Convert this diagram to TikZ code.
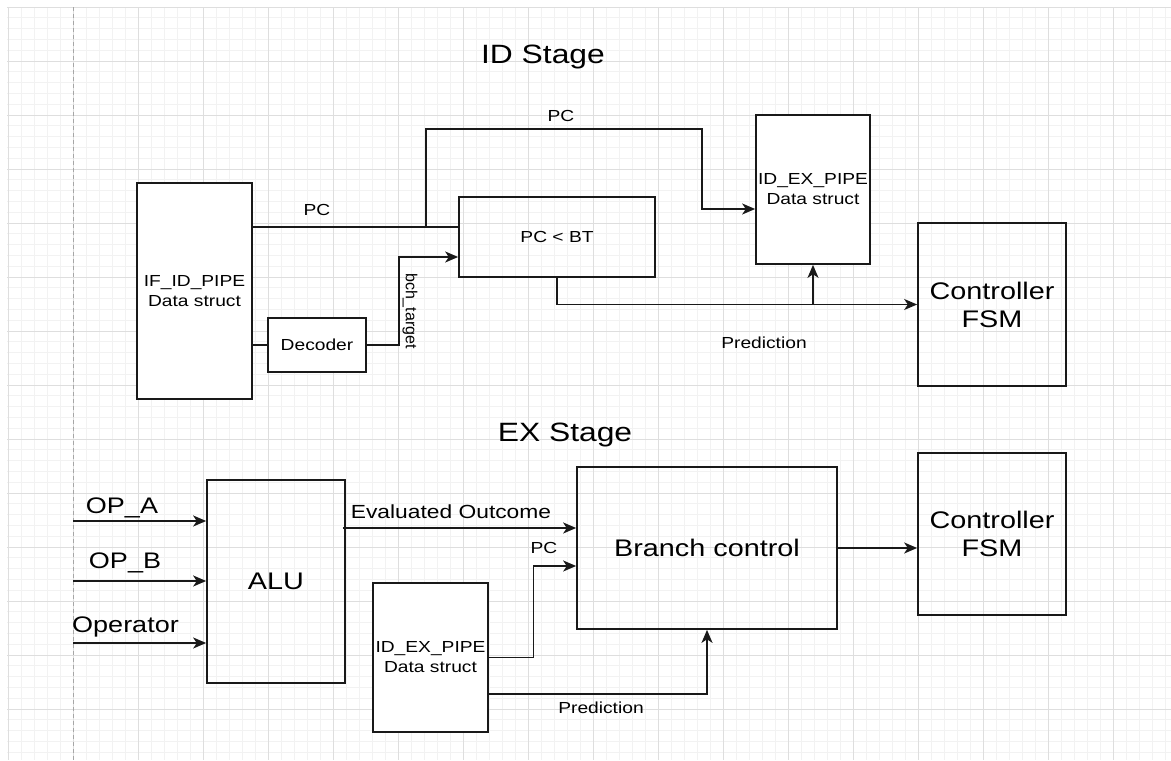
\documentclass[tikz,border=0pt]{standalone}
\usepackage{fontspec}
\setmainfont{Liberation Sans}[FakeStretch=1.2]
\newfontfamily\uprightfont{Liberation Sans}
\usetikzlibrary{arrows.meta, calc}

\begin{document}
\begin{tikzpicture}[x=0.5pt, y=-0.5pt,
    minorgrid/.style={draw=black!5, line width=0.5pt},
    majorgrid/.style={draw=black!13, line width=0.5pt},
    box/.style={draw=black!90, line width=0.85pt, inner sep=0pt, align=center},
    wire/.style={draw=black!90, line width=0.85pt},
    arr/.style={wire, -{Stealth[length=6.5pt, width=5.5pt, inset=1.8pt]}},
    small/.style={inner sep=0pt, align=center, font=\fontsize{8}{10}\selectfont},
    big/.style={inner sep=0pt, align=center, font=\fontsize{11.25}{13}\selectfont},
    huge/.style={inner sep=0pt, align=center, font=\fontsize{12}{14}\selectfont},
    title/.style={inner sep=0pt, font=\fontsize{13.25}{15}\selectfont}]
  \useasboundingbox (0,0) rectangle (1171,760);
  \fill[white] (0,0) rectangle (1171,760);

  % grid paper
  \foreach \gx in {0,...,89}
    \draw[minorgrid] ({8+13*\gx},7) -- ({8+13*\gx},760);
  \foreach \gy in {0,...,69}
    \draw[minorgrid] (7,{7+10.8*\gy}) -- (1171,{7+10.8*\gy});
  \foreach \gx in {0,...,17}
    \draw[majorgrid] ({8+65*\gx},7) -- ({8+65*\gx},760);
  \foreach \gy in {0,...,13}
    \draw[majorgrid] (7,{7+54*\gy}) -- (1171,{7+54*\gy});
  \draw[black!35, line width=0.5pt, dash pattern=on 2pt off 1.5pt] (73,7) -- (73,760);

  % ID stage
  \node[title] (idtitle) at (543,57) {ID Stage};
  \node[box, fill=white, small, minimum width=57.5pt, minimum height=108pt] (ifid) at (194.5,291) {IF\_ID\_PIPE\\Data struct};
  \node[box, fill=white, small, minimum width=49pt, minimum height=27pt] (decoder) at (317,345) {Decoder};
  \node[box, small, minimum width=98pt, minimum height=40pt] (pcbt) at (557,237) {PC \textless{} BT};
  \node[box, fill=white, small, minimum width=57pt, minimum height=74.5pt] (idex) at (813,189.5) {ID\_EX\_PIPE\\Data struct};
  \node[box, huge, minimum width=74pt, minimum height=81.5pt] (ctrl) at (992,304.5) {Controller\\FSM};

  \coordinate (pcsplit) at (426,227);
  \coordinate (pcturn) at (702,129);
  \coordinate (idexin) at ([yshift=-9.75pt]idex.west);

  \draw[wire] (ifid.east |- pcsplit) -- (pcbt.west |- pcsplit);
  \draw[arr] (pcsplit) |- (pcturn) |- (idexin);
  \draw[wire] (ifid.east |- decoder.west) -- (decoder.west);
  \draw[arr] (decoder.east) -- ++(32,0) |- ([yshift=-10pt]pcbt.west);
  \draw[arr] (pcbt.south) |- (ctrl.west);
  \draw[arr] (idex.south |- ctrl.west) -- (idex.south);

  \node[small] (pclow) at (317,210) {PC};
  \node[small] (pchigh) at (561,116) {PC};
  \node[small, font=\uprightfont\fontsize{8}{10}\selectfont, rotate=-90] (bch) at (410,311) {bch\_target};
  \node[small] (predtop) at (764,343) {Prediction};

  % EX stage
  \node[title] (extitle) at (565,435) {EX Stage};
  \node[box, huge, minimum width=69pt, minimum height=101.5pt] (alu) at (276,581.5) {\raisebox{-2.5pt}{ALU}};
  \node[box, huge, minimum width=130pt, minimum height=81pt] (branch) at (707,548) {Branch control};
  \node[box, fill=white, small, minimum width=57.5pt, minimum height=74.5pt] (idexb) at (430.5,657.5) {ID\_EX\_PIPE\\Data struct};
  \node[box, huge, minimum width=74pt, minimum height=81pt] (ctrlb) at (992,534) {Controller\\FSM};

  \coordinate (opa) at (73,521);
  \coordinate (opb) at (73,581);
  \coordinate (opr) at (73,643);
  \coordinate (evalin) at ([yshift=10pt]branch.west);

  \draw[arr] (opa) -- (alu.west |- opa);
  \draw[arr] (opb) -- (alu.west |- opb);
  \draw[arr] (opr) -- (alu.west |- opr);
  \draw[arr] ([xshift=-1.5pt]alu.east |- evalin) -- (evalin);
  \draw[arr] (idexb.east) -- ++(44.5,0) |- ([yshift=-9pt]branch.west);
  \draw[arr] ([yshift=-18.25pt]idexb.east) -| (branch.south);
  \draw[arr] (branch.east) -- (ctrlb.west |- branch.east);

  \node[big] (opalbl) at (122,508) {OP\_A};
  \node[big] (opblbl) at (125,563) {OP\_B};
  \node[big] (oprlbl) at (125.5,627) {Operator};
  \node[small, font=\fontsize{9.5}{11}\selectfont] (evallbl) at (451,512) {Evaluated Outcome};
  \node[small] (pcex) at (544,548) {PC};
  \node[small] (predex) at (601,708) {Prediction};
\end{tikzpicture}
\end{document}
